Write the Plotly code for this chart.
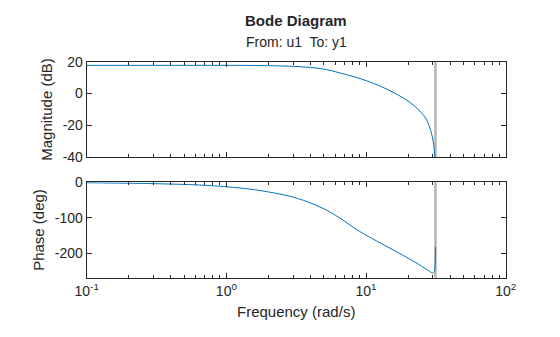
import plotly.graph_objects as go
from plotly.subplots import make_subplots

# Data
freq_mag = [0.1, 0.3, 1.0, 1.5, 2.0, 2.5, 3.2, 4.0, 4.94, 5.7, 6.51, 7.5, 8.57, 10.1, 12.6, 16.6,
            20.6, 24.3, 27.2, 29.2, 30.3, 31.0, 31.3, 31.416]
mag_db = [17.7, 17.7, 17.7, 17.65, 17.5, 17.3, 17.0, 16.4, 15.4, 14.3, 12.9, 11.5, 10.1, 8.0, 4.7, -0.4,
          -5.5, -11.0, -16.6, -24.0, -30.3, -38.0, -50.0, -80.0]

freq_ph = [0.1, 0.2, 0.3, 0.5, 0.7, 1.0, 1.5, 2.0, 2.8, 3.3, 3.88, 4.9, 6.0, 7.0, 8.5, 10.6, 13.0, 16.0,
           21.5, 26.0, 29.0, 30.0, 30.6, 31.0, 31.3, 31.416]
phase_deg = [-1.3, -2.6, -3.8, -6.0, -8.5, -12.5, -19.5, -27.0, -38.5, -46.5, -56.0, -73.0, -92.0, -109.0,
             -132.0, -154.0, -173.0, -192.0, -220.0, -240.0, -252.0, -255.0, -253.0, -245.0, -225.0, -182.0]

NYQUIST = 31.416
mag_range = [-40, 20]
phase_range = [-268, 0]
x_tickvals = [0.1, 1, 10, 100]
x_ticktext = ["10<sup>-1</sup>", "10<sup>0</sup>", "10<sup>1</sup>", "10<sup>2</sup>"]
minor_vals = [m * d for d in [0.1, 1, 10] for m in range(2, 10)]
mag_ticks = [20, 0, -20, -40]
mag_ticktext = ["20", "0", "-20", "-40"]
ph_ticks = [0, -100, -200]
ph_ticktext = ["0", "-100", "-200"]

W, H = 560, 337
x0, x1 = 86.7 / W, 505.7 / W
top_dom = [1 - 157.3 / H, 1 - 61.7 / H]
bot_dom = [1 - 277.7 / H, 1 - 182.3 / H]

TXT = "#262626"
FONT = "Liberation Sans, Arial, sans-serif"

fig = make_subplots(rows=2, cols=1, shared_xaxes=False)

fig.add_trace(go.Scatter(x=freq_mag, y=mag_db, mode="lines", line=dict(color="#0072BD", width=1),
                         line_shape="spline", showlegend=False), row=1, col=1)
fig.add_trace(go.Scatter(x=freq_ph, y=phase_deg, mode="lines", line=dict(color="#0072BD", width=1),
                         line_shape="spline", showlegend=False), row=2, col=1)

for r in (1, 2):
    fig.add_vline(x=NYQUIST, line=dict(color="#b4b4b4", width=2.5), row=r, col=1, layer="below")

xcommon = dict(type="log", range=[-1, 2], showline=True, linecolor=TXT, linewidth=1, mirror="ticks",
               ticks="inside", ticklen=5, tickcolor=TXT, showgrid=False, zeroline=False, automargin=False,
               tickmode="array", tickvals=x_tickvals,
               minor=dict(tickmode="array", tickvals=minor_vals, ticks="inside", ticklen=3, tickcolor=TXT,
                          showgrid=False),
               tickfont=dict(family=FONT, size=14, color=TXT))
ycommon = dict(showline=True, linecolor=TXT, linewidth=1, mirror="ticks", ticks="inside", ticklen=5,
               tickcolor=TXT, showgrid=False, zeroline=False, automargin=False, tickmode="array",
               tickfont=dict(family=FONT, size=14, color=TXT))

fig.update_xaxes(domain=[x0, x1], showticklabels=False, row=1, col=1, **xcommon)
fig.update_xaxes(domain=[x0, x1], ticktext=x_ticktext, row=2, col=1,
                 title=dict(text="Frequency (rad/s)", font=dict(family=FONT, size=15, color=TXT), standoff=8),
                 **xcommon)
fig.update_yaxes(domain=top_dom, range=mag_range, tickvals=mag_ticks, ticktext=mag_ticktext, row=1, col=1,
                 title=dict(text="Magnitude (dB)", font=dict(family=FONT, size=15, color=TXT), standoff=6),
                 **ycommon)
fig.update_yaxes(domain=bot_dom, range=phase_range, tickvals=ph_ticks, ticktext=ph_ticktext, row=2, col=1,
                 title=dict(text="Phase (deg)", font=dict(family=FONT, size=15, color=TXT), standoff=6),
                 **ycommon)

fig.add_annotation(text="<b>Bode Diagram</b>", x=(x0 + x1) / 2, y=1 - 20 / H, xref="paper", yref="paper",
                   showarrow=False, font=dict(family=FONT, size=15, color=TXT), yanchor="middle")
fig.add_annotation(text="From: u1  To: y1", x=(x0 + x1) / 2, y=1 - 42 / H, xref="paper", yref="paper",
                   showarrow=False, font=dict(family=FONT, size=14, color=TXT), yanchor="middle")

fig.update_layout(width=W, height=H, margin=dict(l=0, r=0, t=0, b=0), paper_bgcolor="white",
                  plot_bgcolor="white", showlegend=False)

fig.write_html("out.html")
